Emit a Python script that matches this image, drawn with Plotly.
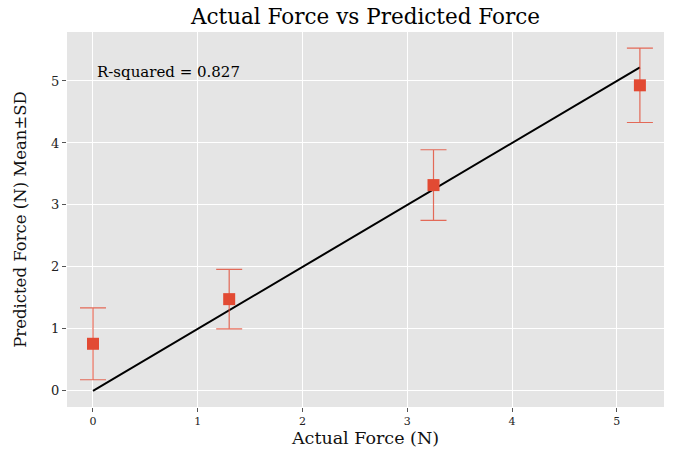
import plotly.graph_objects as go

# Measured vs predicted force data
actual_force = [0.0, 1.3, 3.25, 5.22]
predicted_mean = [0.76, 1.48, 3.32, 4.93]
predicted_sd = [0.58, 0.48, 0.57, 0.60]
r_squared = 0.827

x_ticks = [0, 1, 2, 3, 4, 5]
y_ticks = [0, 1, 2, 3, 4, 5]

FONT = "DejaVu Serif, serif"
RED = "#E24A33"

fig = go.Figure()

# Identity reference line spanning the actual force range
lo, hi = min(actual_force), max(actual_force)
fig.add_trace(go.Scatter(
    x=[lo, hi], y=[lo, hi], mode="lines",
    line=dict(color="black", width=2), showlegend=False, hoverinfo="skip",
))

fig.add_trace(go.Scatter(
    x=actual_force, y=predicted_mean, mode="markers",
    marker=dict(symbol="square", size=12, color=RED),
    error_y=dict(type="data", array=predicted_sd, visible=True,
                 color="rgba(226,74,51,0.8)", thickness=1.2, width=13),
    showlegend=False,
))

fig.add_annotation(
    x=0.02, y=5.15, xref="x", yref="y", text=f"R-squared = {r_squared}",
    showarrow=False, xanchor="left", yanchor="middle",
    font=dict(family=FONT, size=15, color="black"),
)

fig.update_layout(
    width=673, height=455,
    margin=dict(l=67, r=9, t=32, b=48),
    paper_bgcolor="white", plot_bgcolor="#E5E5E5",
    title=dict(text="Actual Force vs Predicted Force", x=0.5, xanchor="center",
               xref="paper", y=0.964, yanchor="middle",
               font=dict(family=FONT, size=21.5, color="black")),
    font=dict(family=FONT, color="#222"),
)

fig.update_xaxes(
    range=[-0.248, 5.45], tickvals=x_ticks, ticktext=[str(t) for t in x_ticks],
    showgrid=True, gridcolor="white", gridwidth=1.2, zeroline=False,
    ticks="outside", ticklen=4, tickcolor="#555", tickfont=dict(size=11, color="#222"),
    title=dict(text="Actual Force (N)", font=dict(family=FONT, size=17.5, color="#111"), standoff=0),
    showline=False,
)
fig.update_yaxes(
    range=[-0.26, 5.79], tickvals=y_ticks, ticktext=[str(t) for t in y_ticks],
    showgrid=True, gridcolor="white", gridwidth=1.2, zeroline=False,
    ticks="outside", ticklen=4, tickcolor="#555", tickfont=dict(size=13, color="#222"),
    title=dict(text="Predicted Force (N) Mean±SD", font=dict(family=FONT, size=16.5, color="#111"), standoff=20),
    showline=False,
)

fig.write_html("out.html")
